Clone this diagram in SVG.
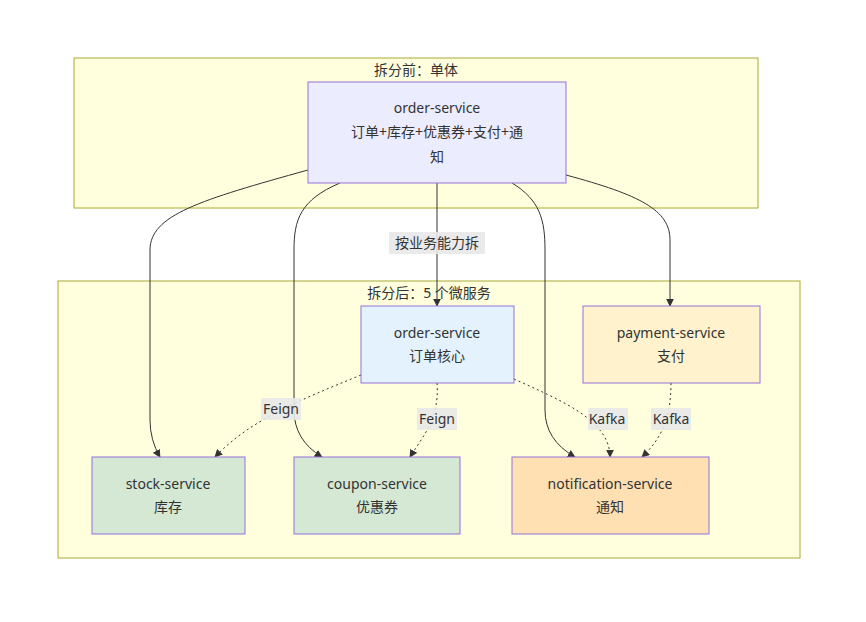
<svg xmlns="http://www.w3.org/2000/svg" width="866" height="622" viewBox="0 0 866 622">
<style>
text{font-family:"Noto Sans","Noto Sans CJK SC",sans-serif;font-size:14px;fill:#333;text-anchor:middle}
.cl{fill:#ffffde;stroke:#aaaa33;stroke-width:1}
.n{stroke:#9370db;stroke-width:1}
.e{fill:none;stroke:#333;stroke-width:1;marker-end:url(#a)}
.d{stroke-dasharray:2 3}
.lb{fill:#e8e8e8;opacity:0.9}
</style>
<defs><marker id="a" viewBox="0 0 10 10" refX="9" refY="5" markerWidth="8" markerHeight="8" orient="auto"><path d="M0,0L10,5L0,10z" fill="#333"/></marker></defs>
<rect fill="#fff" width="866" height="622"/>
<g id="cluster-before"><rect class="cl" x="74" y="58" width="684" height="150"/><text x="416" y="75">拆分前：单体</text></g>
<g id="cluster-after"><rect class="cl" x="58" y="281" width="742" height="277"/><text x="429" y="298">拆分后：5 个微服务</text></g>
<g id="connectors">
<path class="e" d="M308,170C200,200 150,215 150,250L150,420Q150,440 160,457"/>
<path class="e" d="M340,183C300,200 294,220 294,250L294,410Q294,440 322,457"/>
<path class="e" d="M437,183L437,306"/>
<path class="e" d="M512,183C540,200 545,220 545,250L545,410Q545,440 575,457"/>
<path class="e" d="M566,175C640,195 670,210 670,240L670,306"/>
<path class="e d" d="M361,375C300,400 250,420 215,457"/>
<path class="e d" d="M437,383C440,420 420,440 410,457"/>
<path class="e d" d="M514,379C560,400 610,420 610,457"/>
<path class="e d" d="M671,383C671,420 660,440 642,457"/>
<rect class="lb" x="389" y="232" width="96" height="22"/><text x="437" y="248">按业务能力拆</text>
<rect class="lb" x="261" y="398" width="40" height="22"/><text x="281" y="414">Feign</text>
<rect class="lb" x="417" y="408" width="40" height="22"/><text x="437" y="424">Feign</text>
<rect class="lb" x="588" y="408" width="40" height="22"/><text x="607" y="424">Kafka</text>
<rect class="lb" x="651" y="408" width="40" height="22"/><text x="671" y="424">Kafka</text>
</g>
<g id="order-monolith"><rect class="n" fill="#ececff" x="308" y="82" width="258" height="101"/><text x="437" y="113">order-service</text><text x="437" y="137">订单+库存+优惠券+支付+通</text><text x="437" y="162">知</text></g>
<g id="order-core"><rect class="n" fill="#e3f2fd" x="361" y="306" width="153" height="77"/><text x="437" y="338">order-service</text><text x="437" y="361">订单核心</text></g>
<g id="payment"><rect class="n" fill="#fff2cc" x="583" y="306" width="177" height="77"/><text x="671" y="338">payment-service</text><text x="671" y="361">支付</text></g>
<g id="stock"><rect class="n" fill="#d5e8d4" x="92" y="457" width="153" height="77"/><text x="168" y="489">stock-service</text><text x="168" y="512">库存</text></g>
<g id="coupon"><rect class="n" fill="#d5e8d4" x="294" y="457" width="166" height="77"/><text x="377" y="489">coupon-service</text><text x="377" y="512">优惠券</text></g>
<g id="notification"><rect class="n" fill="#ffe0b2" x="512" y="457" width="197" height="77"/><text x="610" y="489">notification-service</text><text x="610" y="512">通知</text></g>
</svg>
